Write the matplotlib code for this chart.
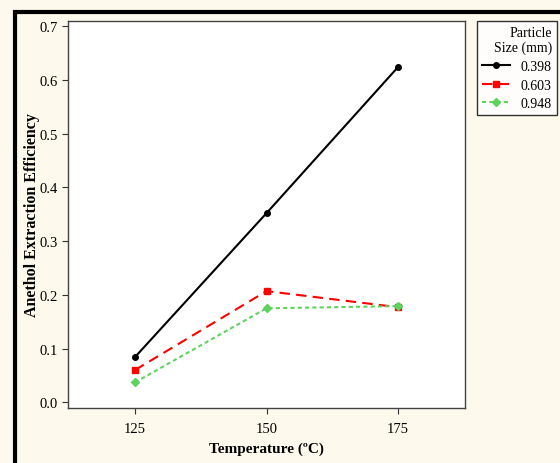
import matplotlib.pyplot as plt
from matplotlib.patches import Rectangle

plt.rcParams['font.family'] = ['Liberation Serif', 'DejaVu Serif']

temperature = [125, 150, 175]
sizes = ['0.398', '0.603', '0.948']
eff_0398 = [0.084, 0.352, 0.624]
eff_0603 = [0.060, 0.207, 0.177]
eff_0948 = [0.037, 0.175, 0.179]

BG = '#fdf9ec'
W, H = 560, 464

fig = plt.figure(figsize=(5.6, 4.64), dpi=100, facecolor=BG)
ax = fig.add_axes([68 / W, 1 - 409 / H, (465 - 68) / W, (409 - 22) / H])
ax.set_facecolor('white')

ax.plot(temperature, eff_0398, color='black', lw=1.5, marker='o', ms=4, label=sizes[0])
ax.plot(temperature, eff_0603, color='#ff0000', lw=1.5, ls=(0, (5, 3)), marker='s', ms=4.5, label=sizes[1])
ax.plot(temperature, eff_0948, color='#5fd35f', lw=1.5, ls=(0, (2, 1.5)), marker='D', ms=4, label=sizes[2])

ax.set_xlim(112.3, 187.7)
ax.set_ylim(-0.0105, 0.7095)
ax.set_xticks(temperature)
ax.set_yticks([0.0, 0.1, 0.2, 0.3, 0.4, 0.5, 0.6, 0.7])
ax.set_yticklabels(['0.0', '0.1', '0.2', '0.3', '0.4', '0.5', '0.6', '0.7'])
ax.tick_params(labelsize=10.5, length=4, color='#333333', width=0.8)
ax.tick_params(axis='x', pad=6)
for sp in ax.spines.values():
    sp.set_color('#444444')
    sp.set_linewidth(1)

ax.set_xlabel('Temperature (ºC)', fontsize=11, fontweight='bold', labelpad=5)
ax.set_ylabel('Anethol Extraction Efficiency', fontsize=11.5, fontweight='bold')
ax.yaxis.set_label_coords(-0.07, 0.5)

leg = fig.legend(title='Particle\nSize (mm)', loc='upper left',
                 bbox_to_anchor=(477 / W, 1 - 22 / H), fontsize=10, title_fontsize=10,
                 frameon=True, fancybox=False, edgecolor='black', handlelength=2.0,
                 borderpad=0.35, labelspacing=0.4, handletextpad=0.8, borderaxespad=0)
leg.get_frame().set_linewidth(1)
leg.get_frame().set_facecolor('white')
leg._legend_box.align = 'right'
leg.get_title().set_multialignment('right')

# thick black frame along the top and left of the image
fig.patches.append(Rectangle((15 / W, -0.1), 1.2, 1 - 13 / H + 0.1, transform=fig.transFigure,
                             fill=False, edgecolor='black', lw=3, zorder=10))

fig.savefig('out.png', dpi=100, facecolor=BG)
